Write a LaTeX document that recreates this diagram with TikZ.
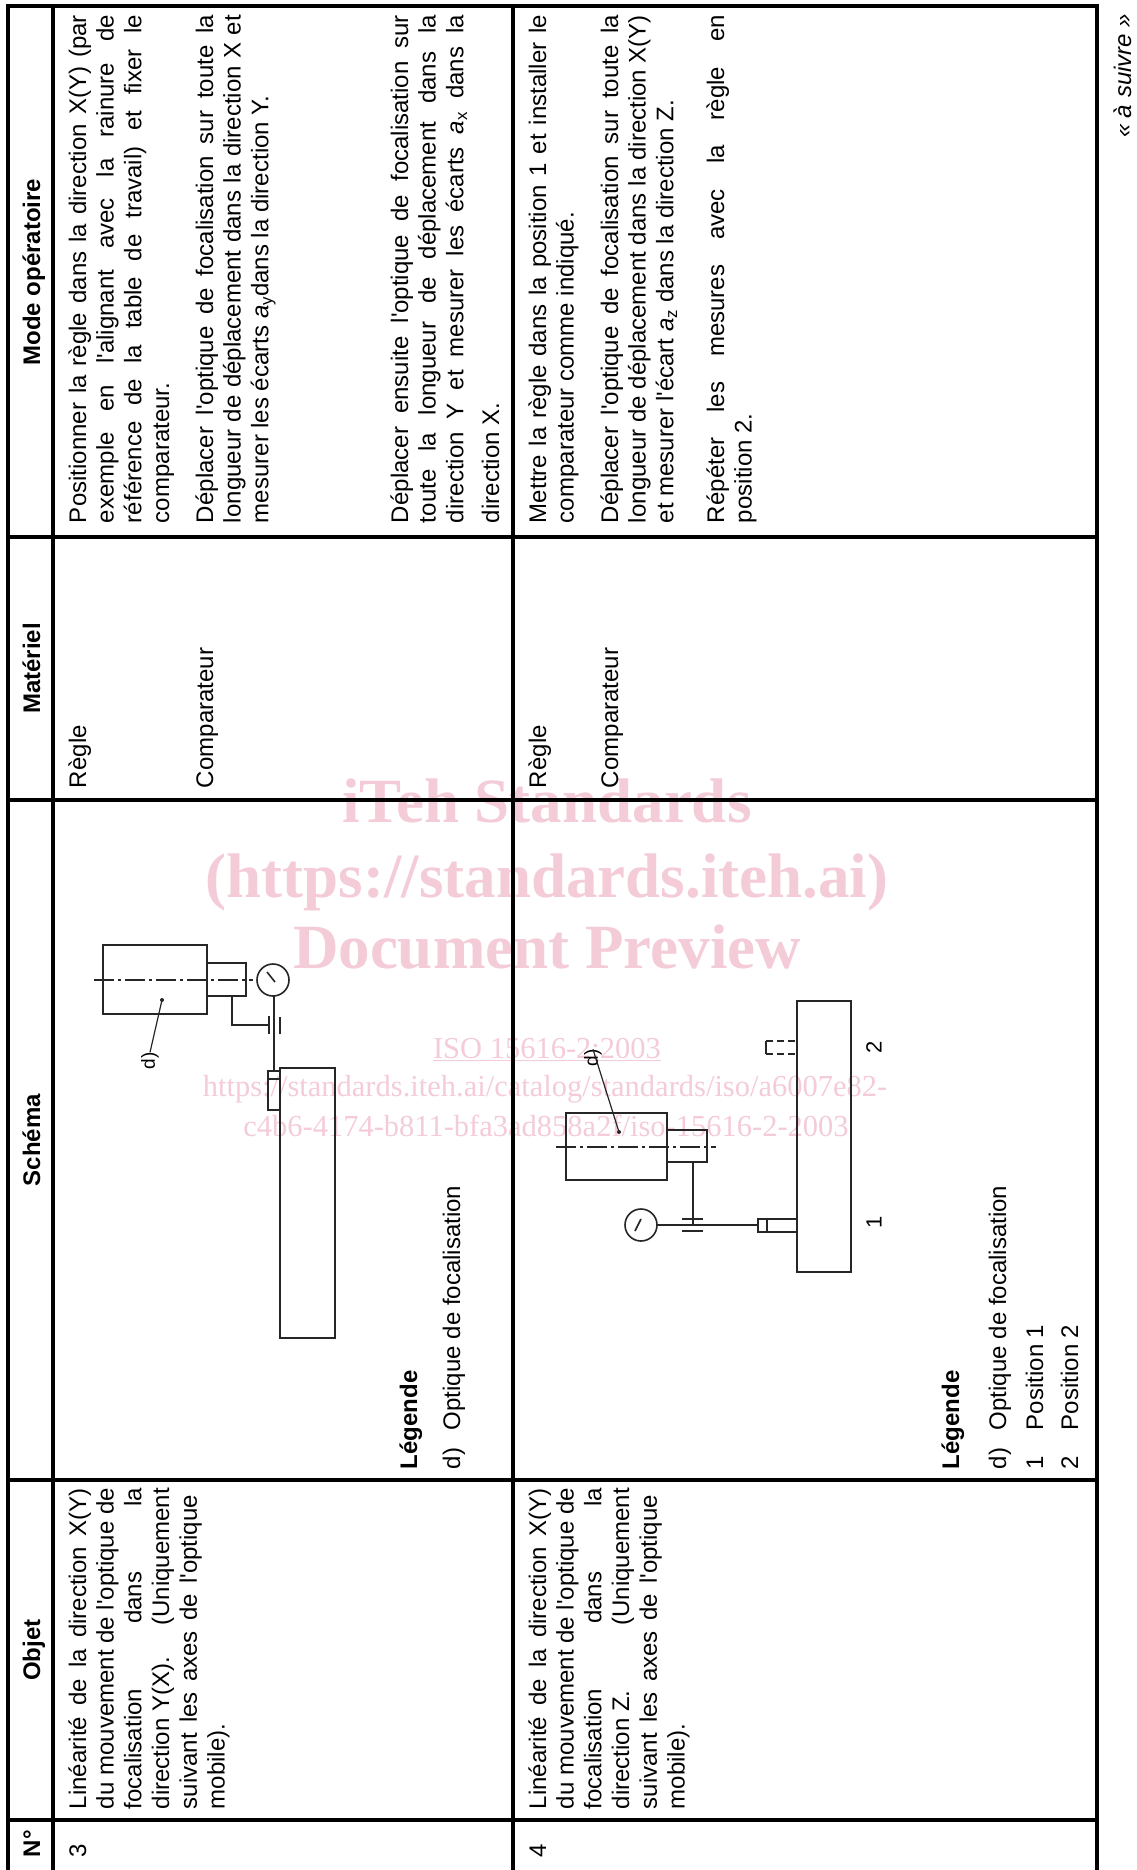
\documentclass[tikz,border=0pt]{standalone}
\usepackage{fontspec}
\setmainfont{Liberation Sans}
\newfontfamily\bodyfam{Liberation Sans}
\newfontfamily\wmfont{Liberation Serif}
\newcommand\bodysize{\bodyfam\fontsize{24}{27.7}\selectfont}
\newcommand\J[2]{\makebox[#1pt][s]{#2}}
\definecolor{wmpink}{RGB}{244,204,216}
\begin{document}
\begin{tikzpicture}[x=1pt,y=1pt,
  ln/.style={rotate=90,anchor=base west,inner sep=0pt,outer sep=0pt,font=\bodysize},
  lnb/.style={ln,font=\bodysize\bfseries},
  hd/.style={rotate=90,anchor=base,inner sep=0pt,outer sep=0pt,font=\bodysize\bfseries},
  grid/.style={line width=3.2pt,black},
  sk/.style={line width=1.6pt,draw=black!85},
  axisline/.style={line width=1.2pt,draw=black!85,dash pattern=on 20pt off 4pt on 3pt off 4pt},
  dashtip/.style={sk,dash pattern=on 7pt off 4pt},
  lab/.style={rotate=90,inner sep=0pt,font=\bodyfam\fontsize{19}{20}\selectfont},
  wmbig/.style={anchor=base,inner sep=0pt,text=wmpink,font=\wmfont\bfseries\fontsize{63}{70}\selectfont},
  wmsmall/.style={anchor=base,inner sep=0pt,text=wmpink,font=\wmfont\fontsize{30.5}{34}\selectfont}
]
\useasboundingbox (0,0) rectangle (1136,-1870);
\fill[white] (0,0) rectangle (1136,-1870);

% watermark
\node[wmbig] (wm1) at (547,-822) {iTeh Standards};
\node[wmbig] (wm2) at (547,-897) {(https://standards.iteh.ai)};
\node[wmbig] (wm3) at (547,-968) {Document Preview};
\node[wmsmall] (wm4) at (547,-1058) {\underline{ISO 15616-2:2003}};
\node[wmsmall] (wm5) at (545,-1096) {https://standards.iteh.ai/catalog/standards/iso/a6007e82-};
\node[wmsmall] (wm6) at (546,-1136) {c4b6-4174-b811-bfa3ad858a2f/iso-15616-2-2003};

% table grid
\foreach \gx in {8,53,513,1097} \draw[grid] (\gx,-4.4) -- (\gx,-1875);
\foreach \gy in {6,537,800,1480,1820} \draw[grid] (6.4,-\gy) -- (1098.6,-\gy);

% headers
\node[hd] (hmode) at (40,-272) {Mode opératoire};
\node[hd] (hmat) at (40,-668.5) {Matériel};
\node[hd] (hsch) at (40,-1140) {Schéma};
\node[hd] (hobj) at (40,-1650) {Objet};
\node[lnb] (hno) at (40,-1857) {N°};

% row 3 : N°, Objet
\node[ln] (n3) at (86,-1857) {3};
\node[ln] (o3a) at (86,-1809) {\J{321}{Linéarité de la direction X(Y)}};
\node[ln] (o3b) at (113.7,-1809) {\J{321}{du mouvement de l'optique de}};
\node[ln] (o3c) at (141.4,-1809) {\J{321}{focalisation dans la}};
\node[ln] (o3d) at (169.1,-1809) {\J{321}{direction Y(X).\hfill(Uniquement}};
\node[ln] (o3e) at (196.8,-1809) {\J{314}{suivant les axes de l'optique}};
\node[ln] (o3f) at (224.5,-1809) {mobile).};

% row 3 : Matériel
\node[ln] (t3a) at (86,-788) {Règle};
\node[ln] (t3b) at (213,-788) {Comparateur};

% row 3 : Mode opératoire
\node[ln] (m3a) at (86,-523) {\J{508}{Positionner la règle dans la direction X(Y) (par}};
\node[ln] (m3b) at (113.7,-523) {\J{508}{exemple en l'alignant avec la rainure de}};
\node[ln] (m3c) at (141.4,-523) {\J{508}{référence de la table de travail) et fixer le}};
\node[ln] (m3d) at (169.1,-523) {comparateur.};
\node[ln] (m3e) at (213,-523) {\J{508}{Déplacer l'optique de focalisation sur toute la}};
\node[ln] (m3f) at (240.7,-523) {\J{508}{longueur de déplacement dans la direction X et}};
\node[ln] (m3g) at (268.4,-523) {mesurer les écarts \textit{a}\textsubscript{y}dans la direction Y.};
\node[ln] (m3h) at (408,-523) {\J{508}{Déplacer ensuite l'optique de focalisation sur}};
\node[ln] (m3i) at (435.7,-523) {\J{508}{toute la longueur de déplacement dans la}};
\node[ln] (m3j) at (463.4,-523) {\J{508}{direction Y et mesurer les écarts \textit{a}\textsubscript{x} dans la}};
\node[ln] (m3k) at (499,-523) {direction X.};

% row 3 : legend
\node[lnb] (lg3) at (417,-1469) {Légende};
\node[ln] (lg3d) at (460,-1469) {d)};
\node[ln] (lg3t) at (460,-1430) {Optique de focalisation};

% row 3 : sketch
\draw[sk] (103,-945) rectangle (207,-1014);
\draw[sk] (207,-963) rectangle (246,-996);
\draw[axisline] (94,-980) -- (253,-980);
\draw[sk] (273,-980) circle[radius=16pt];
\draw[sk] (267,-972) -- (275,-982);
\draw[sk] (274,-996) -- (274,-1071);
\draw[sk] (232,-996) -- (232,-1025) -- (268,-1025);
\draw[sk] (269,-1016) -- (269,-1034);
\draw[sk] (280,-1017) -- (280,-1034);
\draw[sk] (268,-1071) rectangle (280,-1110);
\draw[sk] (268,-1079) -- (280,-1079);
\draw[sk] (280,-1068) rectangle (335,-1338);
\coordinate (p3) at (162,-1000);
\fill[black!85] (p3) circle[radius=2pt];
\node[lab] (d3) at (150,-1061) {d)};
\draw[line width=1.2pt,black!85] (p3) -- (d3.east);

% row 4 : N°, Objet
\node[ln] (n4) at (546,-1857) {4};
\node[ln] (o4a) at (546,-1809) {\J{321}{Linéarité de la direction X(Y)}};
\node[ln] (o4b) at (573.7,-1809) {\J{321}{du mouvement de l'optique de}};
\node[ln] (o4c) at (601.4,-1809) {\J{321}{focalisation dans la}};
\node[ln] (o4d) at (629.1,-1809) {\J{321}{direction Z.\hfill(Uniquement}};
\node[ln] (o4e) at (656.8,-1809) {\J{314}{suivant les axes de l'optique}};
\node[ln] (o4f) at (684.5,-1809) {mobile).};

% row 4 : Matériel
\node[ln] (t4a) at (546,-788) {Règle};
\node[ln] (t4b) at (618,-788) {Comparateur};

% row 4 : Mode opératoire
\node[ln] (m4a) at (546,-523) {\J{508}{Mettre la règle dans la position 1 et installer le}};
\node[ln] (m4b) at (573.7,-523) {comparateur comme indiqué.};
\node[ln] (m4c) at (618,-523) {\J{508}{Déplacer l'optique de focalisation sur toute la}};
\node[ln] (m4d) at (645.7,-523) {\J{508}{longueur de déplacement dans la direction X(Y)}};
\node[ln] (m4e) at (673.4,-523) {et mesurer l'écart \textit{a}\textsubscript{z} dans la direction Z.};
\node[ln] (m4f) at (724,-523) {\J{508}{Répéter les mesures avec la règle en}};
\node[ln] (m4g) at (751.7,-523) {position 2.};

% row 4 : legend
\node[lnb] (lg4) at (959,-1469) {Légende};
\node[ln] (lg4d) at (1006,-1469) {d)};
\node[ln] (lg4t) at (1006,-1430) {Optique de focalisation};
\node[ln] (lg41) at (1043,-1469) {1};
\node[ln] (lg41t) at (1043,-1430) {Position 1};
\node[ln] (lg42) at (1078,-1469) {2};
\node[ln] (lg42t) at (1078,-1430) {Position 2};

% row 4 : sketch
\draw[sk] (797,-1001) rectangle (851,-1272);
\draw[sk] (566,-1113) rectangle (667,-1180);
\draw[sk] (667,-1130) rectangle (707,-1162);
\draw[axisline] (556,-1147) -- (716,-1147);
\draw[sk] (693,-1162) -- (693,-1225);
\draw[sk] (682,-1219) -- (703,-1219);
\draw[sk] (682,-1231) -- (703,-1231);
\draw[sk] (641,-1225) circle[radius=16pt];
\draw[sk] (635,-1231) -- (641,-1219);
\draw[sk] (657,-1225) -- (758,-1225);
\draw[sk] (758,-1219) rectangle (797,-1232);
\draw[sk] (767,-1219) -- (767,-1232);
\draw[sk] (766,-1041) -- (766,-1054);
\draw[dashtip] (766,-1041) -- (797,-1041);
\draw[dashtip] (766,-1054) -- (797,-1054);
\coordinate (p4) at (619,-1132);
\fill[black!85] (p4) circle[radius=2pt];
\node[lab] (d4) at (593,-1058) {d)};
\draw[line width=1.2pt,black!85] (p4) -- (d4.east);
\node[lab,font=\bodyfam\fontsize{22}{24}\selectfont] (pos1) at (874,-1222) {1};
\node[lab,font=\bodyfam\fontsize{22}{24}\selectfont] (pos2) at (874,-1047) {2};

% continuation note
\node[ln,font=\bodysize\itshape] (suivre) at (1131,-138) {«~à suivre~»};
\end{tikzpicture}
\end{document}
